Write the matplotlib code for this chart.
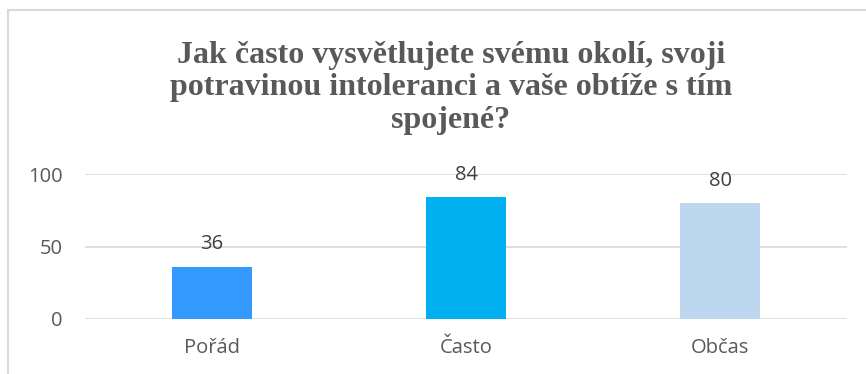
import matplotlib.pyplot as plt
from matplotlib.patches import Rectangle

# Data
categories = ['Pořád', 'Často', 'Občas']
values = [36, 84, 80]
colors = ['#3399FF', '#00B0F0', '#BDD7EE']
yticks = [0, 50, 100]
title = 'Jak často vysvětlujete svému okolí, svoji\npotravinou intoleranci a vaše obtíže s tím\nspojené?'

fig = plt.figure(figsize=(8.66, 3.74), dpi=100)
ax = fig.add_axes([85/866, 1 - 319/374, 762/866, 145/374])

# chart border (cut off at right and bottom like the original)
fig.patches.append(Rectangle((8/866, -0.1), 1.0, 1 - 10/374 + 0.1,
                             transform=fig.transFigure, fill=False,
                             edgecolor='#d9d9d9', linewidth=1.5))

x = range(len(categories))
bars = ax.bar(x, values, width=0.315, color=colors, zorder=2)

for xi, v in zip(x, values):
    ax.annotate(str(v), (xi, v), textcoords='offset points', xytext=(0, 9),
                ha='center', va='bottom', fontsize=14.5, color='#404040',
                family='Open Sans', annotation_clip=False)

ax.set_xlim(-0.5, 2.5)
ax.set_ylim(0, 100)
ax.set_yticks(yticks)
ax.set_xticks(list(x))
ax.set_xticklabels(categories)
ax.grid(axis='y', color='#d9d9d9', linewidth=1.2, zorder=0)
ax.set_axisbelow(True)
for s in ax.spines.values():
    s.set_visible(False)
ax.tick_params(length=0, labelsize=14.5, labelcolor='#595959', pad=14)
for lbl in ax.get_xticklabels() + ax.get_yticklabels():
    lbl.set_family('Open Sans')
ax.tick_params(axis='y', pad=16)

fig.text(451/866, 1 - 88/374, title, ha='center', va='center',
         family='Liberation Serif', fontweight='bold', fontsize=23,
         color='#595959', linespacing=1.15)

fig.savefig('out.png', dpi=100)
